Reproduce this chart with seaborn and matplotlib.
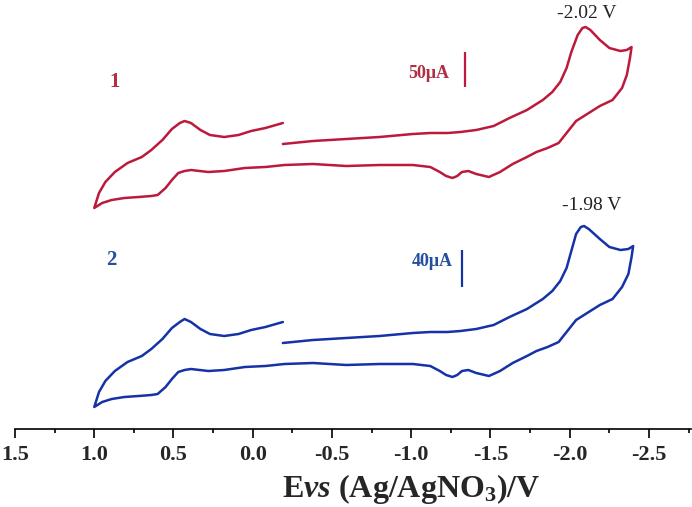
import matplotlib
matplotlib.use("Agg")
import matplotlib.pyplot as plt
from matplotlib.ticker import MultipleLocator, FormatStrFormatter
import seaborn as sns
import pandas as pd

# ---------------- data (potential in V, current in arbitrary units) ----------------
# Curve 1 (red): forward scan from -0.19 V to -2.39 V
red_fwd_E = [-0.19, -0.38, -0.59, -0.80, -1.01, -1.12, -1.23, -1.31, -1.41, -1.52, -1.62,
             -1.73, -1.83, -1.89, -1.94, -1.98, -2.01, -2.05, -2.08, -2.10, -2.13, -2.19,
             -2.25, -2.32, -2.36, -2.39]
red_fwd_I = [285, 288, 290, 292, 295, 296, 296, 297, 299, 303, 311,
             319, 329, 337, 347, 361, 377, 394, 401, 402, 399, 389,
             381, 378, 379, 382]
# reverse scan -2.39 V -> 1.00 V
red_rev_E = [-2.38, -2.36, -2.33, -2.27, -2.19, -2.11, -2.04, -1.98, -1.93, -1.86, -1.79,
             -1.73, -1.64, -1.56, -1.49, -1.41, -1.36, -1.32, -1.29, -1.26, -1.22, -1.18,
             -1.12, -1.01, -0.80, -0.59, -0.38, -0.20, -0.08, 0.05, 0.18, 0.28, 0.39,
             0.43, 0.47, 0.51, 0.55, 0.60, 0.64, 0.72, 0.81, 0.89, 0.95, 1.00]
red_rev_I = [371, 354, 341, 329, 323, 315, 308, 296, 286, 281, 277,
             272, 265, 257, 252, 255, 258, 257, 253, 251, 253, 257,
             262, 264, 264, 263, 265, 264, 262, 261, 258, 257, 259,
             258, 256, 249, 241, 234, 233, 232, 231, 229, 226, 221]
# return scan 1.00 V -> -0.19 V
red_ret_E = [0.97, 0.93, 0.87, 0.79, 0.70, 0.64, 0.57, 0.51, 0.46, 0.43, 0.39, 0.33,
             0.27, 0.18, 0.09, 0.01, -0.08, -0.19]
red_ret_I = [236, 247, 257, 266, 272, 279, 289, 300, 306, 308, 306, 299,
             294, 292, 294, 298, 301, 306]

# Curve 2 (blue)
blue_fwd_E = [-0.19, -0.38, -0.59, -0.80, -1.01, -1.12, -1.23, -1.31, -1.41, -1.52, -1.62,
              -1.73, -1.83, -1.89, -1.94, -1.98, -2.01, -2.04, -2.07, -2.09, -2.12, -2.19,
              -2.25, -2.32, -2.37, -2.40]
blue_fwd_I = [86, 89, 91, 93, 96, 97, 97, 98, 100, 104, 112,
              120, 130, 138, 148, 161, 178, 195, 202, 203, 200, 190,
              182, 179, 180, 183]
blue_rev_E = [-2.39, -2.37, -2.33, -2.27, -2.19, -2.11, -2.04, -1.98, -1.93, -1.86, -1.79,
              -1.73, -1.64, -1.56, -1.49, -1.41, -1.36, -1.32, -1.29, -1.26, -1.22, -1.18,
              -1.12, -1.01, -0.80, -0.59, -0.38, -0.20, -0.08, 0.05, 0.18, 0.28, 0.39,
              0.43, 0.47, 0.51, 0.55, 0.60, 0.64, 0.72, 0.81, 0.89, 0.95, 1.00]
blue_rev_I = [172, 155, 142, 130, 124, 116, 109, 97, 87, 82, 78,
              73, 66, 58, 53, 56, 59, 58, 54, 52, 54, 58,
              63, 65, 65, 64, 66, 65, 63, 62, 59, 58, 60,
              59, 57, 50, 42, 35, 34, 33, 32, 30, 27, 22]
blue_ret_E = [0.97, 0.93, 0.87, 0.79, 0.70, 0.64, 0.57, 0.51, 0.46, 0.43, 0.39, 0.33,
              0.27, 0.18, 0.09, 0.01, -0.08, -0.19]
blue_ret_I = [37, 48, 58, 67, 73, 80, 90, 101, 107, 110, 107, 100,
              95, 93, 95, 99, 102, 107]

peak_labels = ["-2.02 V", "-1.98 V"]
curve_labels = ["1", "2"]
scale_labels = ["50\u03bcA", "40\u03bcA"]
x_ticks = [1.5, 1.0, 0.5, 0.0, -0.5, -1.0, -1.5, -2.0, -2.5]

RED = "#bc1a3c"
BLUE = "#1533a6"
RED_TXT = "#b02f45"
BLUE_TXT = "#24509e"

# ---------------- figure ----------------
sns.set_theme(style="white")
plt.rcParams["font.family"] = ["Liberation Serif", "DejaVu Serif"]
plt.rcParams["axes.unicode_minus"] = False
plt.rcParams["mathtext.fontset"] = "custom"
plt.rcParams["mathtext.rm"] = "Liberation Serif:bold"
plt.rcParams["mathtext.bf"] = "Liberation Serif:bold"
plt.rcParams["mathtext.it"] = "Liberation Serif:italic:bold"

fig = plt.figure(figsize=(6.92, 5.07), dpi=100)
ax = fig.add_axes([15 / 692, 78 / 507, 676 / 692, 429 / 507])

def curve(E_parts, I_parts):
    E, I = [], []
    for e, i in zip(E_parts, I_parts):
        E += e
        I += i
    return pd.DataFrame({"E": E, "I": I})

d1 = curve([red_fwd_E, red_rev_E, red_ret_E], [red_fwd_I, red_rev_I, red_ret_I])
d2 = curve([blue_fwd_E, blue_rev_E, blue_ret_E], [blue_fwd_I, blue_rev_I, blue_ret_I])

for d, c in [(d1, RED), (d2, BLUE)]:
    sns.lineplot(data=d, x="E", y="I", sort=False, estimator=None, color=c, lw=1.8, ax=ax)
for ln in ax.get_lines():
    ln.set_solid_joinstyle("round")
    ln.set_solid_capstyle("round")

ax.set_xlim(1.5, -2.765)
ax.set_ylim(0, 429)

# scale bars
ax.vlines(-1.34, 342, 377, color=RED, lw=1.6)
ax.vlines(-1.32, 142, 179, color=BLUE, lw=1.6)

ax.text(-1.11, 355, scale_labels[0], color=RED_TXT, fontsize=13, fontweight="bold",
        ha="center", va="center")
ax.text(-1.13, 167, scale_labels[1], color=BLUE_TXT, fontsize=13, fontweight="bold",
        ha="center", va="center")
ax.text(0.87, 347, curve_labels[0], color=RED_TXT, fontsize=15, fontweight="bold",
        ha="center", va="center")
ax.text(0.89, 169, curve_labels[1], color=BLUE_TXT, fontsize=15, fontweight="bold",
        ha="center", va="center")
ax.text(-2.11, 416, peak_labels[0], color="#222222", fontsize=14, ha="center", va="center")
ax.text(-2.14, 224, peak_labels[1], color="#222222", fontsize=14, ha="center", va="center")

# axes styling
for s in ["left", "top", "right"]:
    ax.spines[s].set_visible(False)
ax.spines["bottom"].set_color("black")
ax.spines["bottom"].set_linewidth(1.2)
ax.set_yticks([])
ax.set_ylabel("")
ax.set_xticks(x_ticks)
ax.xaxis.set_minor_locator(MultipleLocator(0.25))
ax.xaxis.set_major_formatter(FormatStrFormatter("%.1f"))
ax.tick_params(axis="x", which="major", direction="out", length=6.3, width=1.2,
               color="black", pad=5, labelsize=16, bottom=True)
ax.tick_params(axis="x", which="minor", direction="out", length=3.1, width=1.2,
               color="black", bottom=True)
for lab in ax.get_xticklabels():
    lab.set_fontweight("bold")

ax.set_xlabel(r"$\mathrm{E}\mathit{vs}\ \mathrm{(Ag/AgNO_{3})/V}$", fontsize=23)
ax.xaxis.label.set_va("center")
ax.xaxis.set_label_coords((411 - 15) / 676, -(489 - 429) / 429)

fig.savefig("out.png", dpi=100)
